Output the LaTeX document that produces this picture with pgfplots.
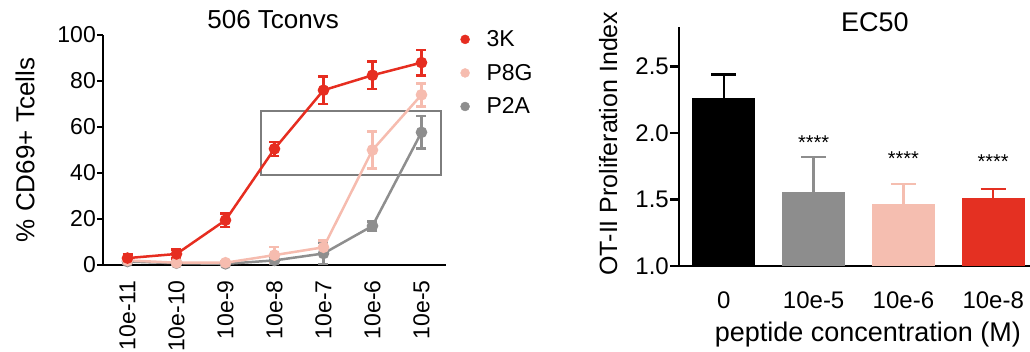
\documentclass[border=0pt]{standalone}
\usepackage{fontspec}
\setmainfont{Liberation Sans}
\usepackage{pgfplots}
\pgfplotsset{compat=1.18}
\definecolor{cRed}{RGB}{230,45,32}
\definecolor{cPink}{RGB}{246,188,175}
\definecolor{cGray}{RGB}{142,142,142}
\definecolor{cBox}{RGB}{125,125,125}
\definecolor{bGray}{RGB}{141,141,141}
\definecolor{bPink}{RGB}{245,190,176}
\definecolor{bRed}{RGB}{228,48,34}
\pgfplotstableread{
x y e
0 3 1.5
1 4.8 2
2 19.5 3
3 50.5 3
4 76 6
5 82.5 6
6 88 5.5
}\tblK
\pgfplotstableread{
x y e
0 2 1
1 1 0.5
2 1 0.5
3 4.3 3.5
4 7.7 3
5 50 8
6 74 5
}\tblG
\pgfplotstableread{
x y e
0 1.5 1
1 0.8 0.5
2 0.5 0.5
3 2 1.5
4 5 4.5
5 17 2
6 57.7 7
}\tblA
\begin{document}
\begin{tikzpicture}
\path[use as bounding box] (0,0) rectangle (1030pt,351pt);
\begin{axis}[
  at={(103pt,86pt)}, anchor=south west, scale only axis,
  width=343pt, height=230pt,
  xmin=-0.5, xmax=6.5, ymin=0, ymax=100,
  axis x line=bottom, axis y line=left,
  axis line style={line width=2.5pt,-},
  xtick={0,...,6},
  xticklabels={10e-11,10e-10,10e-9,10e-8,10e-7,10e-6,10e-5},
  major x tick style={draw=none},
  x tick label style={rotate=90, anchor=east, inner sep=0pt},
  xticklabel shift=9pt,
  ytick={0,20,...,100},
  y tick label style={inner sep=1pt},
  tick align=outside, major tick length=6pt,
  tick style={line width=2.5pt, black},
  /pgf/number format/assume math mode=true,
  ticklabel style={font=\fontsize{23}{23}\selectfont},
  ylabel={\% CD69+ Tcells},
  ylabel style={at={(axis description cs:-0.227,0.5)}, anchor=center, font=\fontsize{26}{26}\selectfont},
  title={506 Tconvs},
  title style={at={(axis description cs:0.496,1.043)}, anchor=center, font=\fontsize{26}{26}\selectfont},
  legend style={draw=none, fill=none, at={(rel axis cs:1.042,1.02)}, anchor=north west,
    inner sep=0pt, row sep=16pt, column sep=0pt,
    nodes={inner sep=0pt, font=\fontsize{23}{23}\selectfont}},
  legend cell align=left,
  clip=false,
]
\addlegendimage{only marks, mark=*, mark size=4.5pt, cRed}
\addlegendentry{\hspace{17pt}3K}
\addlegendimage{only marks, mark=*, mark size=4.5pt, cPink}
\addlegendentry{\hspace{17pt}P8G}
\addlegendimage{only marks, mark=*, mark size=4.5pt, cGray}
\addlegendentry{\hspace{17pt}P2A}
\draw[cBox, line width=2pt] (axis cs:2.73,39) rectangle (axis cs:6.40,67);
\addplot[forget plot, cGray, line width=2.5pt, mark=*, mark size=4.5pt,
  error bars/.cd, y dir=both, y explicit,
  error bar style={line width=2.5pt, cGray},
  error mark options={rotate=90, line width=2.5pt, mark size=5pt, cGray}]
  table[x=x, y=y, y error=e] {\tblA};
\addplot[forget plot, cPink, line width=2.5pt, mark=*, mark size=4.5pt,
  error bars/.cd, y dir=both, y explicit,
  error bar style={line width=2.5pt, cPink},
  error mark options={rotate=90, line width=2.5pt, mark size=5pt, cPink}]
  table[x=x, y=y, y error=e] {\tblG};
\addplot[forget plot, cRed, line width=2.5pt, mark=*, mark size=4.5pt,
  error bars/.cd, y dir=both, y explicit,
  error bar style={line width=2.5pt, cRed},
  error mark options={rotate=90, line width=2.5pt, mark size=5pt, cRed}]
  table[x=x, y=y, y error=e] {\tblK};
\end{axis}

\begin{axis}[
  at={(679pt,85pt)}, anchor=south west, scale only axis,
  width=351pt, height=239pt,
  xmin=-0.5, xmax=3.41, ymin=1, ymax=2.795,
  axis x line=bottom, axis y line=left,
  axis line style={line width=2.5pt,-},
  xtick={0,1,2,3},
  xticklabels={0,10e-5,10e-6,10e-8},
  major x tick style={draw=none},
  x tick label style={anchor=north, inner sep=0pt},
  xticklabel shift=17pt,
  ytick={1,1.5,2,2.5},
  yticklabels={1.0,1.5,2.0,2.5},
  y tick label style={inner sep=1pt},
  tick align=outside, major tick length=9pt,
  tick style={line width=2.5pt, black},
  ticklabel style={font=\fontsize{24}{24}\selectfont},
  ylabel={OT-II Proliferation Index},
  ylabel style={at={(axis description cs:-0.202,0.512)}, anchor=center, font=\fontsize{25}{25}\selectfont},
  xlabel={peptide concentration (M)},
  xlabel style={at={(axis description cs:0.538,-0.288)}, anchor=center, font=\fontsize{27}{27}\selectfont},
  title={EC50},
  title style={at={(axis description cs:0.558,0.995)}, anchor=center, font=\fontsize{27}{27}\selectfont},
]
\addplot[ybar, bar width=63pt, bar shift=0pt, fill=black, draw=none,
  error bars/.cd, y dir=plus, y explicit,
  error bar style={line width=2.5pt, black},
  error mark options={rotate=90, line width=2.5pt, mark size=12.5pt, black}]
  coordinates {(0,2.265) +- (0,0.175)};
\addplot[ybar, bar width=63pt, bar shift=0pt, fill=bGray, draw=none,
  error bars/.cd, y dir=plus, y explicit,
  error bar style={line width=2.5pt, bGray},
  error mark options={rotate=90, line width=2.5pt, mark size=12.5pt, bGray}]
  coordinates {(1,1.553) +- (0,0.267)};
\addplot[ybar, bar width=63pt, bar shift=0pt, fill=bPink, draw=none,
  error bars/.cd, y dir=plus, y explicit,
  error bar style={line width=2.5pt, bPink},
  error mark options={rotate=90, line width=2.5pt, mark size=12.5pt, bPink}]
  coordinates {(2,1.465) +- (0,0.15)};
\addplot[ybar, bar width=63pt, bar shift=0pt, fill=bRed, draw=none,
  error bars/.cd, y dir=plus, y explicit,
  error bar style={line width=2.5pt, bRed},
  error mark options={rotate=90, line width=2.5pt, mark size=12.5pt, bRed}]
  coordinates {(3,1.51) +- (0,0.07)};
\node[font=\fontsize{20}{20}\selectfont] at (axis cs:1,1.93) {****};
\node[font=\fontsize{20}{20}\selectfont] at (axis cs:2,1.805) {****};
\node[font=\fontsize{20}{20}\selectfont] at (axis cs:3,1.785) {****};
\end{axis}
\end{tikzpicture}
\end{document}
